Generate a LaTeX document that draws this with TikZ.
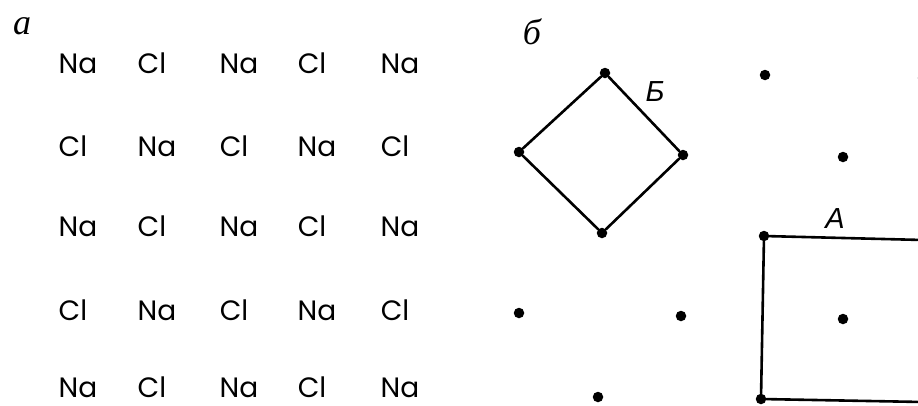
\documentclass[tikz,border=0pt]{standalone}
\usepackage{fontspec}
\setmainfont{Poppins}
\newfontfamily\lblserif{Liberation Serif}
\newfontfamily\lblsans{Liberation Sans}
\begin{document}
\begin{tikzpicture}[x=1pt,y=-1pt,
  atom/.style={font=\fontsize{28}{30}\selectfont, inner sep=0pt, anchor=base, text depth=0pt},
  pt/.style={circle, fill=black, inner sep=0pt, minimum size=10.5pt},
  edge/.style={line width=2.6pt, line cap=round},
  panel/.style={font=\lblserif\itshape\fontsize{36}{38}\selectfont, inner sep=0pt, anchor=base, text depth=0pt},
  cell/.style={font=\lblsans\itshape\fontsize{29}{31}\selectfont, inner sep=0pt, anchor=base, text depth=0pt}]
\useasboundingbox (0,0) rectangle (918,405);
\clip (0,0) rectangle (918,405);
% panel labels
\node[panel] (la) at (22,34) {а};
\node[panel] (lb) at (532,44) {б};
% left: NaCl arrangement
\foreach \r/\y in {1/73,2/156,3/236,4/320,5/397}{
  \foreach \c/\x in {1/78,2/157,3/239,4/317,5/400}{
    \pgfmathtruncatemacro{\s}{mod(\r+\c,2)}
    \ifnum\s=0
      \node[atom] (n\r\c) at (\x,\y) {Na};
    \else
      \node[atom] (n\r\c) at (\x-5,\y) {Cl};
    \fi
  }
}
% right: lattice points
\node[pt] (p01) at (605,73) {};
\node[pt] (p03) at (765,75) {};
\node[pt] (p05) at (923,78) {};
\node[pt] (p10) at (519,152) {};
\node[pt] (p12) at (683,155) {};
\node[pt] (p14) at (843,157) {};
\node[pt] (p21) at (602,233) {};
\node[pt] (p23) at (764,236) {};
\node[pt] (p25) at (923,240) {};
\node[pt] (p30) at (519,313) {};
\node[pt] (p32) at (681,316) {};
\node[pt] (p34) at (843,319) {};
\node[pt] (p41) at (598,397) {};
\node[pt] (p43) at (761,399) {};
\node[pt] (p45) at (923,402) {};
% cell B (diamond)
\draw[edge] (p01) -- (p10);
\draw[edge] (p10) -- (p21);
\draw[edge] (p21) -- (p12);
\draw[edge] (p12) -- (p01);
% cell A (square)
\draw[edge] (p23) -- (p25);
\draw[edge] (p23) -- (p43);
\draw[edge] (p43) -- (p45);
\draw[edge] (p25) -- (p45);
% cell labels
\node[cell] (lB) at (655,101) {Б};
\node[cell] (lA) at (835,228) {A};
\end{tikzpicture}
\end{document}
